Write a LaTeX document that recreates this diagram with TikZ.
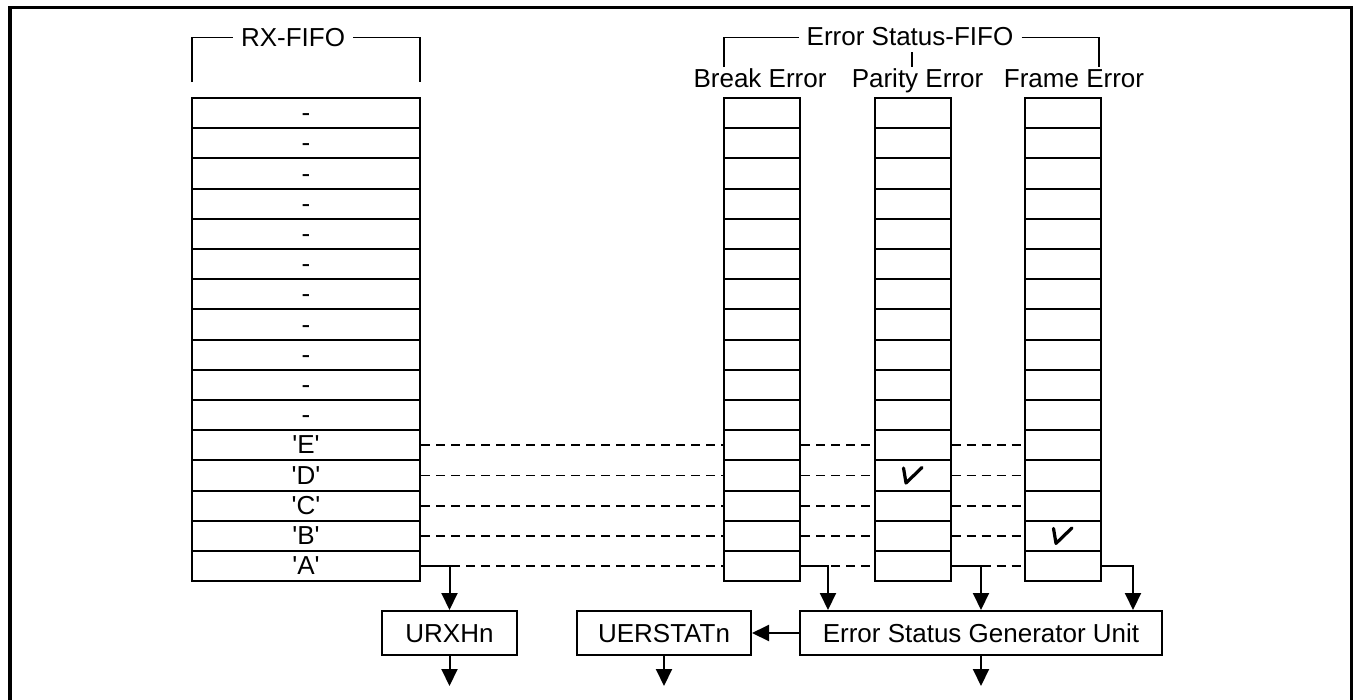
\documentclass[tikz,border=0pt]{standalone}
\usepackage{fontspec}
\newfontfamily\arialf{Liberation Sans}
\usetikzlibrary{arrows.meta,calc}
\begin{document}
\begin{tikzpicture}[x=1pt,y=-1pt,
  txt/.style={font=\arialf\fontsize{26}{30}\selectfont},
  rxcell/.style={txt,draw,line width=2pt,minimum width=228pt,minimum height=30.2pt,inner sep=0pt,text height=17pt,text depth=0pt},
  errcell/.style={draw,line width=2pt,minimum width=76pt,minimum height=30.2pt,inner sep=0pt},
  box/.style={txt,draw,line width=2pt,minimum height=44pt,inner sep=0pt,text height=18pt,text depth=0pt},
  lbl/.style={txt,inner sep=0pt,inner xsep=8pt,anchor=base},
  brk/.style={line width=1.8pt},
  dsh/.style={line width=1.8pt,dash pattern=on 9pt off 6pt},
  arr/.style={line width=2pt,-{Triangle[width=16pt,length=17pt]}},
  chk/.style={line width=3.2pt,line join=round,line cap=round}]
\useasboundingbox (0,0) rectangle (1355,699);
% outer frame
\draw[line width=3.5pt] (10,720) -- (10,7.5) -- (1351.5,7.5) -- (1351.5,720);
% FIFO cells
\foreach \i/\t in {1/-,2/-,3/-,4/-,5/-,6/-,7/-,8/-,9/-,10/-,11/-,12/'E',13/'D',14/'C',15/'B',16/'A'}{
  \node[rxcell] (rx\i) at (306,{82.9+30.2*\i}) {\t};
  \node[errcell] (be\i) at (762,{82.9+30.2*\i}) {};
  \node[errcell] (pe\i) at (912.5,{82.9+30.2*\i}) {};
  \node[errcell] (fe\i) at (1063,{82.9+30.2*\i}) {};
}
% headings
\node[lbl] (rxl) at (293,46) {RX-FIFO};
\draw[brk] (192,82) -- (192,37.5) -- (rxl.west |- 0,37.5);
\draw[brk] (rxl.east |- 0,37.5) -- (420,37.5) -- (420,82);
\node[lbl] (esl) at (910,45) {Error Status-FIFO};
\draw[brk] (724,67) -- (724,37.5) -- (esl.west |- 0,37.5);
\draw[brk] (esl.east |- 0,37.5) -- (1099,37.5) -- (1099,67);
\draw[brk] (912,52) -- (912,67);
\node[lbl,inner xsep=0pt] (bel) at (760,87) {Break Error};
\node[lbl,inner xsep=0pt] (pel) at (917.5,87) {Parity Error};
\node[lbl,inner xsep=0pt] (fel) at (1074,87) {Frame Error};
% dashed links
\foreach \i in {12,...,16}{
  \draw[dsh] (rx\i.east) -- (be\i.west);
  \draw[dsh] (be\i.east) -- (pe\i.west);
  \draw[dsh] (pe\i.east) -- (fe\i.west);
}
% check marks
\draw[chk] ($(pe13)+(-9,-7.5)$) -- ($(pe13)+(-6.5,7.5)$) -- ($(pe13)+(9.5,-8)$);
\draw[chk] ($(fe15)+(-9.5,-7.5)$) -- ($(fe15)+(-7,7.5)$) -- ($(fe15)+(9,-8)$);
% bottom boxes
\node[box,minimum width=135pt] (urx) at (449.5,633) {URXHn};
\node[box,minimum width=174pt] (ues) at (664,633) {UERSTATn};
\node[box,minimum width=362pt] (esg) at (981,633) {Error Status Generator Unit};
\coordinate (o1) at (449.5,686);
\coordinate (o2) at (664,686);
\coordinate (o3) at (981,686);
% arrows
\draw[arr] (rx16.east) -| (urx.north);
\draw[arr] (be16.east) -| ([xshift=29pt]esg.north west);
\draw[arr] (pe16.east) -| (esg.north);
\draw[arr] (fe16.east) -| ([xshift=-30pt]esg.north east);
\draw[arr] (esg.west) -- (ues.east);
\draw[arr] (urx.south) -- (o1);
\draw[arr] (ues.south) -- (o2);
\draw[arr] (esg.south) -- (o3);
\end{tikzpicture}
\end{document}
